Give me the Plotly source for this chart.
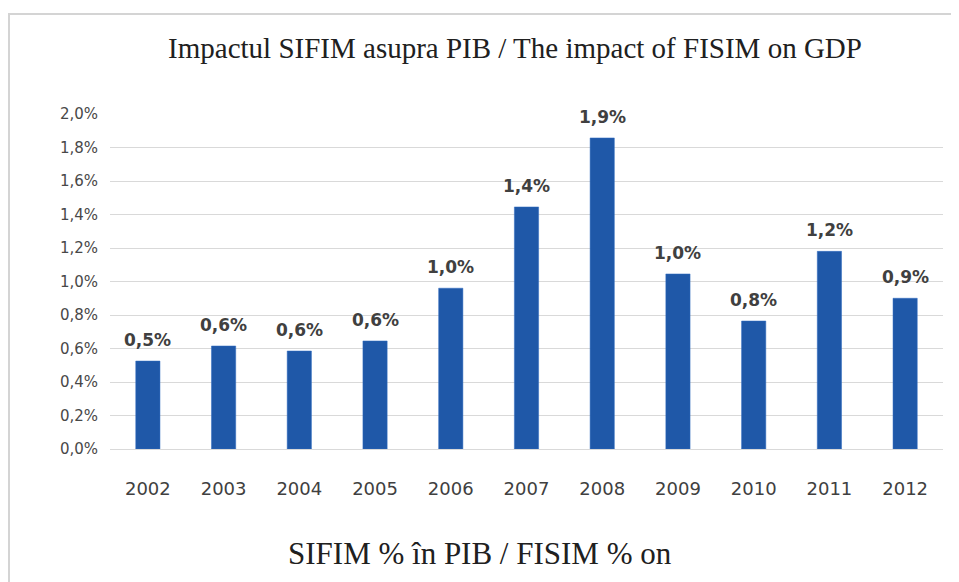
import plotly.graph_objects as go

years = ["2002", "2003", "2004", "2005", "2006", "2007", "2008", "2009", "2010", "2011", "2012"]
sifim_pct = [0.525, 0.615, 0.585, 0.645, 0.96, 1.445, 1.857, 1.045, 0.764, 1.18, 0.90]
y_ticks = [0.0, 0.2, 0.4, 0.6, 0.8, 1.0, 1.2, 1.4, 1.6, 1.8, 2.0]
y_ticktext = [f"{v:.1f}%".replace(".", ",") for v in y_ticks]
bar_labels = [f"{v:.1f}%".replace(".", ",") for v in sifim_pct]

# page body has an 8px margin: figure origin sits at (8, 8) in the window
OFF = 8
W, H = 959 - OFF, 582 - OFF

fig = go.Figure()
fig.add_trace(go.Bar(
    x=years, y=sifim_pct,
    marker=dict(color="#1F58A8", line=dict(color="#2E6BC0", width=0.5)),
    width=0.32,
))

# category axis: annotation x given as category index
for i, (v, lab) in enumerate(zip(sifim_pct, bar_labels)):
    fig.add_annotation(x=i, y=v, text=f"<b>{lab}</b>", showarrow=False,
                       xanchor="center", yanchor="bottom", yshift=9,
                       font=dict(family="DejaVu Sans, sans-serif", size=17, color="#404040"))

fig.update_layout(
    width=W, height=H,
    margin=dict(l=110 - OFF, r=16, t=114 - OFF, b=582 - 449),
    paper_bgcolor="white", plot_bgcolor="white",
    showlegend=False,
    title=dict(text="Impactul SIFIM asupra PIB / The impact of FISIM on GDP",
               x=(515 - OFF) / W, xanchor="center", y=1 - (48 - OFF) / H, yanchor="middle",
               xref="container", yref="container",
               font=dict(family="Liberation Serif, serif", size=29, color="#202020")),
    xaxis=dict(type="category", range=[-0.5, len(years) - 0.5],
               showgrid=False, showline=False, ticks="", ticklabelstandoff=27,
               tickfont=dict(family="DejaVu Sans, sans-serif", size=18, color="#404040")),
    yaxis=dict(range=[0, 2.0], tickvals=y_ticks, ticktext=y_ticktext,
               showgrid=True, gridcolor="#D9D9D9", gridwidth=1.2,
               zeroline=True, zerolinecolor="#D9D9D9", zerolinewidth=1.2,
               showline=False, ticks="", ticklabelstandoff=11,
               tickfont=dict(family="DejaVu Sans, sans-serif", size=15, color="#484848")),
    bargap=0.68,
)

fig.add_annotation(text="SIFIM % în PIB / FISIM % on",
                   xref="paper", yref="paper", x=(480 - 110) / 833, y=(449 - 553) / 335,
                   xanchor="center", yanchor="middle", showarrow=False,
                   font=dict(family="Liberation Serif, serif", size=31, color="#202020"))

fig.add_shape(type="rect", xref="paper", yref="paper",
              x0=(9 - 110) / 833, x1=1.5, y0=-1.5, y1=(449 - 14) / 335,
              line=dict(color="#D4D4D4", width=2), layer="below")

fig.write_html("out.html")
